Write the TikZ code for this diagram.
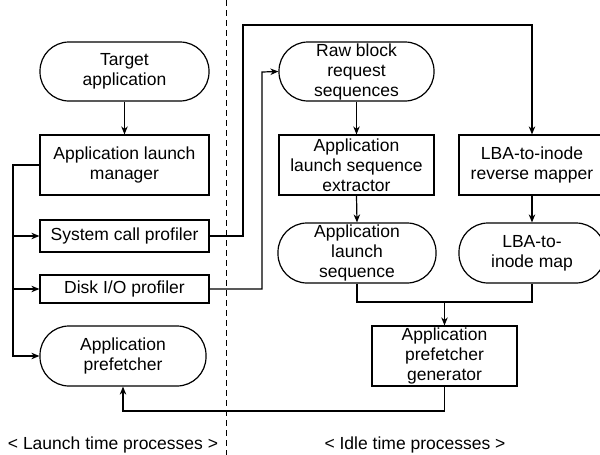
\documentclass[tikz,border=0pt]{standalone}
\usepackage{fontspec}
\setmainfont{Liberation Sans}
\usetikzlibrary{arrows.meta}
\begin{document}
\begin{tikzpicture}[x=1pt,y=-1pt,
  every node/.style={font=\fontsize{17.5}{20}\selectfont, align=center, inner sep=0pt, line width=1.2pt},
  box/.style={draw, rectangle},
  pill/.style={draw, rectangle, rounded corners=29pt},
  conn/.style={line width=1.2pt},
  arr/.style={conn, -{Stealth[length=8pt,width=6.5pt,inset=2.5pt]}}]
\useasboundingbox (0,0) rectangle (600,455);
\begin{scope}
\clip (0,0) rectangle (600,455);
% divider
\draw[line width=1pt, dash pattern=on 6pt off 4pt] (226,0) -- (226,455);

% nodes
\node[pill, minimum width=169pt, minimum height=59pt] (tgt) at (124.5,71.5) {Target\\application};
\node[box, minimum width=169pt, minimum height=60pt] (mgr) at (124.5,165) {Application launch\\manager};
\node[box, minimum width=169pt, minimum height=32pt] (sys) at (124.5,236) {System call profiler};
\node[box, minimum width=169pt, minimum height=28pt] (disk) at (124.5,289) {Disk I/O profiler};
\node[pill, minimum width=166pt, minimum height=60pt] (pref) at (123,356) {Application\\prefetcher};

\node[pill, minimum width=155pt, minimum height=59pt] (raw) at (356.5,71.5) {Raw block\\request\\sequences};
\node[box, minimum width=155pt, minimum height=60pt] (ext) at (356.5,165) {Application\\launch sequence\\extractor};
\node[box, minimum width=146pt, minimum height=60pt] (rev) at (532,165) {LBA-to-inode\\reverse mapper};
\node[pill, minimum width=158pt, minimum height=60pt] (seq) at (357,253) {Application\\launch\\sequence};
\node[pill, minimum width=146pt, minimum height=60pt] (map) at (532,253) {LBA-to-\\inode map};
\node[box, minimum width=145pt, minimum height=60pt] (gen) at (444.5,356) {Application\\prefetcher\\generator};

\node (lbl1) at (113,445) {< Launch time processes >};
\node (lbl2) at (415,445) {< Idle time processes >};

% coordinates
\coordinate (bus) at (13,165);
\coordinate (topr) at (243,25);
\coordinate (diskup) at (262,72);
\coordinate (mergeL) at (357,302);
\coordinate (mergeR) at (532,302);
\coordinate (mergeC) at (444.5,302);
\coordinate (back) at (444.5,411);

% connectors
\draw[arr] (tgt.south) -- (mgr.north);
\draw[arr] (mgr.west) -- (bus) |- (pref.west);
\draw[arr] (bus |- sys.west) -- (sys.west);
\draw[arr] (bus |- disk.west) -- (disk.west);
\draw[arr] (sys.east) -| (topr) -| (rev.north);
\draw[arr] (disk.east) -| (diskup) -- (raw.west);
\draw[arr] (raw.south) -- (ext.north);
\draw[arr] (ext.south) -- (seq.north);
\draw[arr] (rev.south) -- (map.north);
\draw[conn] (seq.south) -- (mergeL) -- (mergeR) -- (map.south);
\draw[arr] (mergeC) -- (gen.north);
\draw[arr] (gen.south) -- (back) -| (pref.south);
\end{scope}
\end{tikzpicture}
\end{document}
